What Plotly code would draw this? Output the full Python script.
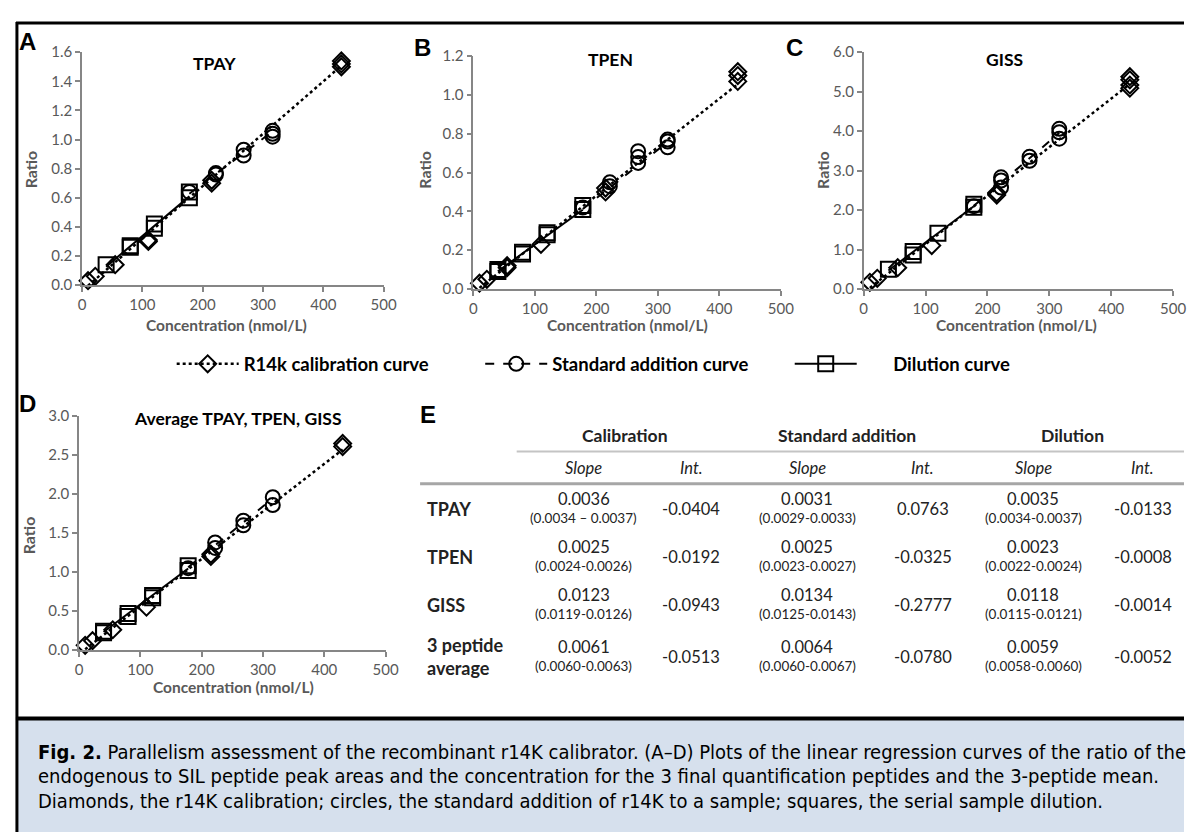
import plotly.graph_objects as go
import numpy as np

# page body has an 8px margin: the figure is sized to fill the rest of the 1197x840 window
OFF = 8
W, H = 1197 - OFF, 840 - OFF
def px(x): return (x - OFF) / W
def py(y): return 1 - (y - OFF) / H

# ---------------- data ----------------
panel_titles = ["TPAY", "TPEN", "GISS", "Average TPAY, TPEN, GISS"]
panel_letters = ["A", "B", "C", "D"]
y_max = [1.6, 1.2, 6.0, 3.0]
y_dtick = [0.2, 0.2, 1.0, 0.5]
x_ticks = [0, 100, 200, 300, 400, 500]

# TPAY
tpay_cal_x = [10, 22, 55, 110, 110, 215, 215, 430, 430, 430]
tpay_cal_y = [0.03, 0.06, 0.14, 0.30, 0.31, 0.70, 0.72, 1.50, 1.52, 1.54]
tpay_sa_x = [178, 222, 222, 268, 268, 316, 316, 316]
tpay_sa_y = [0.64, 0.76, 0.77, 0.89, 0.93, 1.02, 1.04, 1.06]
tpay_dil_x = [40, 80, 80, 120, 120, 178, 178]
tpay_dil_y = [0.14, 0.26, 0.27, 0.39, 0.42, 0.60, 0.64]
# TPEN
tpen_cal_x = [10, 22, 55, 55, 110, 215, 215, 430, 430, 430]
tpen_cal_y = [0.03, 0.05, 0.11, 0.12, 0.23, 0.50, 0.52, 1.07, 1.10, 1.12]
tpen_sa_x = [178, 222, 222, 268, 268, 268, 316, 316, 316]
tpen_sa_y = [0.42, 0.53, 0.55, 0.65, 0.68, 0.71, 0.73, 0.76, 0.77]
tpen_dil_x = [40, 40, 80, 80, 120, 120, 178, 178]
tpen_dil_y = [0.09, 0.10, 0.18, 0.19, 0.28, 0.29, 0.41, 0.43]
# GISS
giss_cal_x = [10, 22, 55, 110, 215, 215, 430, 430, 430, 430]
giss_cal_y = [0.17, 0.27, 0.54, 1.10, 2.38, 2.44, 5.09, 5.17, 5.30, 5.38]
giss_sa_x = [178, 222, 222, 222, 268, 268, 316, 316, 316]
giss_sa_y = [2.10, 2.57, 2.75, 2.83, 3.25, 3.35, 3.81, 3.97, 4.06]
giss_dil_x = [40, 80, 80, 120, 178, 178]
giss_dil_y = [0.50, 0.86, 0.95, 1.41, 2.07, 2.15]
# 3-peptide average
avg_cal_x = [10, 22, 55, 110, 215, 215, 430, 430]
avg_cal_y = [0.06, 0.12, 0.26, 0.55, 1.20, 1.23, 2.61, 2.65]
avg_sa_x = [178, 222, 222, 268, 268, 316, 316]
avg_sa_y = [1.05, 1.31, 1.38, 1.60, 1.66, 1.86, 1.96]
avg_dil_x = [40, 40, 80, 80, 120, 120, 178, 178]
avg_dil_y = [0.22, 0.24, 0.43, 0.47, 0.67, 0.70, 1.02, 1.08]

# table E
row_labels = ["TPAY", "TPEN", "GISS", "3 peptide<br>average"]
method_names = ["Calibration", "Standard addition", "Dilution"]
cal_slope = ["0.0036", "0.0025", "0.0123", "0.0061"]
cal_ci = ["(0.0034 \u2013 0.0037)", "(0.0024-0.0026)", "(0.0119-0.0126)", "(0.0060-0.0063)"]
cal_int = ["-0.0404", "-0.0192", "-0.0943", "-0.0513"]
sa_slope = ["0.0031", "0.0025", "0.0134", "0.0064"]
sa_ci = ["(0.0029-0.0033)", "(0.0023-0.0027)", "(0.0125-0.0143)", "(0.0060-0.0067)"]
sa_int = ["0.0763", "-0.0325", "-0.2777", "-0.0780"]
dil_slope = ["0.0035", "0.0023", "0.0118", "0.0059"]
dil_ci = ["(0.0034-0.0037)", "(0.0022-0.0024)", "(0.0115-0.0121)", "(0.0058-0.0060)"]
dil_int = ["-0.0133", "-0.0008", "-0.0014", "-0.0052"]

series_names = ["R14k calibration curve", "Standard addition curve", "Dilution curve"]
caption_lines = [
    "<b>Fig. 2.</b> Parallelism assessment of the recombinant r14K calibrator. (A\u2013D) Plots of the linear regression curves of the ratio of the",
    "endogenous to SIL peptide peak areas and the concentration for the 3 final quantification peptides and the 3-peptide mean.",
    "Diamonds, the r14K calibration; circles, the standard addition of r14K to a sample; squares, the serial sample dilution.",
]

panel_data = [
    [(tpay_cal_x, tpay_cal_y), (tpay_sa_x, tpay_sa_y), (tpay_dil_x, tpay_dil_y)],
    [(tpen_cal_x, tpen_cal_y), (tpen_sa_x, tpen_sa_y), (tpen_dil_x, tpen_dil_y)],
    [(giss_cal_x, giss_cal_y), (giss_sa_x, giss_sa_y), (giss_dil_x, giss_dil_y)],
    [(avg_cal_x, avg_cal_y), (avg_sa_x, avg_sa_y), (avg_dil_x, avg_dil_y)],
]
slopes = [cal_slope, sa_slope, dil_slope]
intercepts = [cal_int, sa_int, dil_int]

# ---------------- styles ----------------
FONT = "Lato, Open Sans, sans-serif"
AX_COL = "#868686"
LBL_COL = "#595959"
symbols = ["diamond-open", "circle-open", "square-open"]
msizes = [13, 14, 15]
dashes = ["dot", "dash", "solid"]
lwidths = [2.5, 2, 2]

# panel pixel boxes: (x_left, x_right, y_top, y_bottom)
boxes = [(79, 385, 43, 281), (476, 788, 47, 285), (872, 1186, 43, 285), (76, 387, 415, 654)]

fig = go.Figure()

for p in range(4):
    sfx = "" if p == 0 else str(p + 1)
    xa, ya = "x" + sfx, "y" + sfx
    for s in range(3):
        xs, ys = panel_data[p][s]
        m = float(slopes[s][p]); b = float(intercepts[s][p])
        lx = np.array([min(xs), max(xs)], dtype=float)
        fig.add_trace(go.Scatter(x=lx, y=m * lx + b, mode="lines", xaxis=xa, yaxis=ya,
                                 line=dict(color="black", width=lwidths[s], dash=dashes[s]),
                                 showlegend=False, hoverinfo="skip"))
    for s in range(3):
        xs, ys = panel_data[p][s]
        fig.add_trace(go.Scatter(x=xs, y=ys, mode="markers", xaxis=xa, yaxis=ya,
                                 marker=dict(symbol=symbols[s], size=msizes[s], color="black",
                                             line=dict(width=2, color="black")),
                                 cliponaxis=False, showlegend=False))

# legend entries (line + symbol)
legend_ids = ["legend", "legend2", "legend3"]
legend_names = [series_names[0], series_names[1], "\u00a0" * 7 + series_names[2]]
for s in range(3):
    fig.add_trace(go.Scatter(x=[None], y=[None], mode="lines+markers", name=legend_names[s],
                             line=dict(color="black", width=lwidths[s], dash=dashes[s]),
                             marker=dict(symbol=symbols[s], size=msizes[s], color="black",
                                         line=dict(width=2, color="black")),
                             legend=legend_ids[s], showlegend=True))

layout = dict(width=W, height=H, margin=dict(l=0, r=0, t=0, b=0),
              paper_bgcolor="white", plot_bgcolor="rgba(0,0,0,0)",
              font=dict(family=FONT, color="black"))

for p in range(4):
    sfx = "" if p == 0 else str(p + 1)
    xl, xr, yt, yb = boxes[p]
    layout["xaxis" + sfx] = dict(domain=[px(xl), px(xr)], range=[0, 500], tickvals=x_ticks,
                                 showline=True, linecolor=AX_COL, linewidth=1.5,
                                 ticks="outside", ticklen=5, tickcolor=AX_COL, tickwidth=1.5,
                                 showgrid=False, zeroline=False, anchor="y" + sfx,
                                 tickfont=dict(family=FONT, size=15, color=LBL_COL))
    layout["yaxis" + sfx] = dict(domain=[py(yb), py(yt)], range=[0, y_max[p]], dtick=y_dtick[p],
                                 tickformat=".1f", showline=True, linecolor=AX_COL, linewidth=1.5,
                                 ticks="outside", ticklen=5, tickcolor=AX_COL, tickwidth=1.5,
                                 showgrid=False, zeroline=False, anchor="x" + sfx,
                                 tickfont=dict(family=FONT, size=15, color=LBL_COL))

leg_x = [170, 483, 797]
for s in range(3):
    layout[legend_ids[s]] = dict(x=px(leg_x[s]), y=py(362), xanchor="left", yanchor="middle",
                                 orientation="h", itemwidth=62, bgcolor="rgba(0,0,0,0)",
                                 font=dict(family=FONT, size=18.5, color="black", weight="bold"))

ann = []
def add_text(x, y, text, size, color="black", bold=False, italic=False, family=FONT,
             xanchor="center", angle=0, align="center"):
    ann.append(dict(x=px(x), y=py(y), xref="paper", yref="paper", text=text, showarrow=False,
                    xanchor=xanchor, yanchor="middle", textangle=angle, align=align,
                    font=dict(family=family, size=size, color=color,
                              weight="bold" if bold else "normal",
                              style="italic" if italic else "normal")))

# panel letters
letter_pos = [(24, 32), (424, 38), (802, 38), (24, 402)]
for p in range(4):
    add_text(letter_pos[p][0], letter_pos[p][1], panel_letters[p], 24, bold=True,
             family="Liberation Sans, Arial, sans-serif")
add_text(430, 413, "E", 24, bold=True, family="Liberation Sans, Arial, sans-serif")

# panel titles
title_pos = [(213, 55), (615, 50), (1015, 50), (237, 417)]
for p in range(4):
    add_text(title_pos[p][0], title_pos[p][1], panel_titles[p], 17.5, bold=True)

# axis titles
xt_pos = [(226, 322), (632, 322), (1027, 322), (233, 692)]
yt_pos = [(27, 163), (427, 163), (830, 163), (25, 537)]
for p in range(4):
    add_text(xt_pos[p][0], xt_pos[p][1], "Concentration (nmol/L)", 15.5, color=LBL_COL, bold=True)
    add_text(yt_pos[p][0], yt_pos[p][1], "Ratio", 16, color=LBL_COL, bold=True, angle=-90)

# table
TXT = "#222222"
head_x = [630, 855, 1084]
for i in range(3):
    add_text(head_x[i], 435, method_names[i], 17.5, color=TXT, bold=True)
col_x = [588, 697, 815, 932, 1044, 1155]
sub = ["Slope", "Int.", "Slope", "Int.", "Slope", "Int."]
for i in range(6):
    add_text(col_x[i], 468, sub[i], 16.5, color=TXT, italic=True)
row_y = [510, 559, 608, 661]
for r in range(4):
    add_text(427, row_y[r], row_labels[r], 18, color=TXT, bold=True, xanchor="left", align="left")
    for k, (sl, ci, it) in enumerate([(cal_slope, cal_ci, cal_int), (sa_slope, sa_ci, sa_int),
                                      (dil_slope, dil_ci, dil_int)]):
        add_text(col_x[2 * k], row_y[r] - 10, sl[r], 16.5, color=TXT)
        add_text(col_x[2 * k], row_y[r] + 9, ci[r], 13.5, color=TXT)
        add_text(col_x[2 * k + 1], row_y[r], it[r], 16.5, color=TXT)

# caption
cap_y = [758, 783, 808]
for i in range(3):
    add_text(32, cap_y[i], caption_lines[i], 20, color="black", xanchor="left", align="left",
             family="Liberation Sans Narrow, DejaVu Sans Condensed, Arial Narrow, sans-serif")

layout["annotations"] = ann

shapes = [
    dict(type="rect", xref="paper", yref="paper", x0=px(14), x1=1, y0=0, y1=py(725),
         fillcolor="#d6e0ed", line=dict(width=0), layer="below"),
    dict(type="line", xref="paper", yref="paper", x0=px(12), x1=1, y0=py(13), y1=py(13),
         line=dict(color="black", width=3)),
    dict(type="line", xref="paper", yref="paper", x0=px(13), x1=px(13), y0=0, y1=py(12),
         line=dict(color="black", width=3)),
    dict(type="line", xref="paper", yref="paper", x0=px(12), x1=1, y0=py(724), y1=py(724),
         line=dict(color="black", width=4)),
    dict(type="line", xref="paper", yref="paper", x0=px(520), x1=1, y0=py(451), y1=py(451),
         line=dict(color="#c4c4c4", width=2)),
    dict(type="line", xref="paper", yref="paper", x0=px(422), x1=1, y0=py(484), y1=py(484),
         line=dict(color="#a6a6a6", width=3)),
]
layout["shapes"] = shapes

fig.update_layout(**layout)
fig.write_html("out.html")
